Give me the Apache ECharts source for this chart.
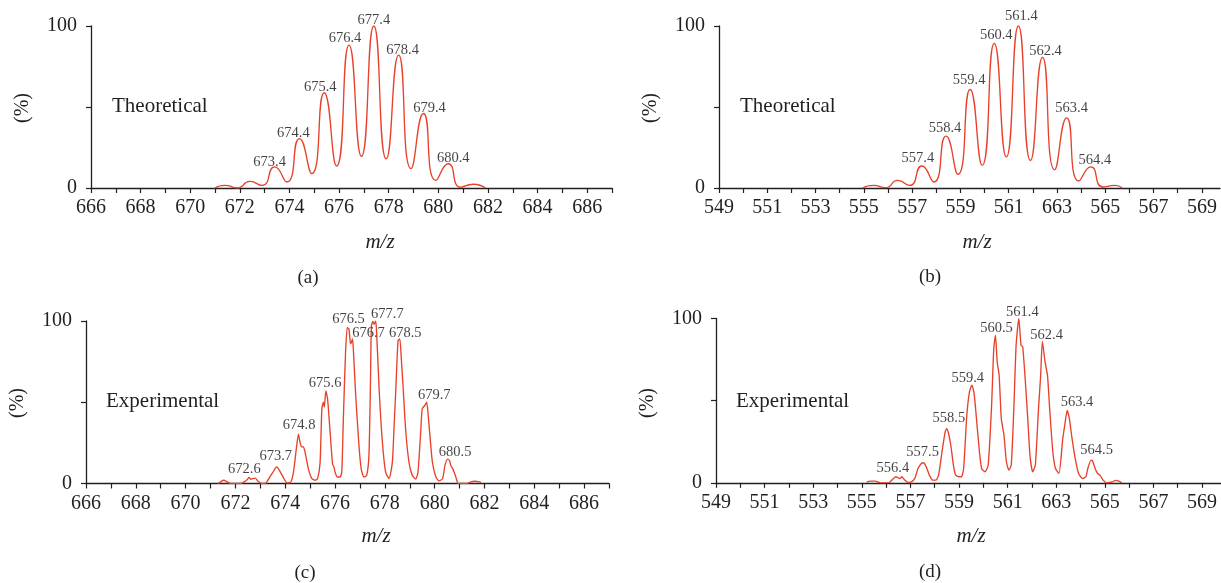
<!DOCTYPE html>
<html>
<head>
<meta charset="utf-8">
<script src="https://cdn.jsdelivr.net/npm/echarts@6/dist/echarts.min.js"></script>
<style>
html, body { margin: 0; padding: 0; background: #ffffff; }
#chart { width: 1221px; height: 583px; }
</style>
</head>
<body>
<div id="chart"></div>
<script>
// ---- m/z axis ticks ----
const ticksA = [666, 667, 668, 669, 670, 671, 672, 673, 674, 675, 676, 677, 678, 679, 680, 681, 682, 683, 684, 685, 686, 687];
const labelValuesA = [666, 668, 670, 672, 674, 676, 678, 680, 682, 684, 686];
const labelTextA = ['666', '668', '670', '672', '674', '676', '678', '680', '682', '684', '686'];
const ticksB = [549, 550, 551, 552, 553, 554, 555, 556, 557, 558, 559, 560, 561, 562, 563, 564, 565, 566, 567, 568, 569];
const labelValuesB = [549, 551, 553, 555, 557, 559, 561, 563, 565, 567, 569];
const labelTextB = ['549', '551', '553', '555', '557', '559', '561', '663', '565', '567', '569'];

// ---- theoretical isotope envelopes: peak / valley points [m/z, %] ----
const theoA = [[671.0, 0], [671.4, 1.6], [671.9, 0], [672.4, 4.1], [672.9, 1.6], [673.4, 13], [673.9, 3.7], [674.4, 30.5], [674.9, 8.9], [675.4, 58.8], [675.9, 13.6], [676.4, 88.2], [676.9, 19.6], [677.4, 100], [677.9, 18], [678.4, 82], [678.9, 12], [679.4, 46], [679.9, 4.7], [680.4, 15], [680.9, 0.5], [681.4, 2.3], [681.9, 0]];
const theoB = [[554.95, 0], [555.4, 1.6], [555.9, 0.2], [556.4, 4.7], [556.9, 1.6], [557.4, 13.6], [557.9, 3.7], [558.4, 32], [558.9, 8.5], [559.4, 60.8], [559.9, 14], [560.4, 89.3], [560.9, 19.2], [561.4, 100], [561.9, 17], [562.4, 80.6], [562.9, 11.3], [563.4, 43.3], [563.9, 4.3], [564.4, 13], [564.9, 0.6], [565.4, 1.6], [565.7, 0]];

// ---- experimental spectra [m/z, %] ----
const expC = [[671.3, 0], [671.42, 1.2], [671.53, 2], [671.65, 1.2], [671.8, 0], [672.2, 0], [672.35, 1], [672.48, 2.5], [672.55, 3.7], [672.62, 2.6], [672.7, 3], [672.8, 3.3], [672.9, 1.5], [673.05, 0], [673.2, 0], [673.3, 2], [673.42, 5], [673.55, 8], [673.64, 10.2], [673.7, 9.6], [673.8, 7.2], [673.93, 3.5], [674.07, 0.4], [674.2, 0.5], [674.33, 7], [674.45, 22], [674.53, 30.3], [674.6, 25], [674.66, 22.5], [674.73, 22.5], [674.8, 19], [674.93, 9], [675.07, 3], [675.2, 2], [675.3, 3], [675.4, 13], [675.47, 46], [675.53, 50], [675.57, 47], [675.63, 57], [675.7, 52], [675.8, 32], [675.9, 12], [675.96, 10], [676.0, 7], [676.09, 4], [676.2, 4], [676.27, 7], [676.33, 38], [676.42, 80], [676.49, 96], [676.56, 95], [676.62, 86], [676.66, 87], [676.7, 89], [676.73, 84], [676.83, 54], [676.96, 23.5], [677.05, 9], [677.16, 4], [677.27, 5], [677.36, 17], [677.42, 60], [677.46, 97], [677.52, 99.7], [677.57, 98], [677.63, 100], [677.67, 93], [677.77, 58], [677.9, 25.6], [678.03, 7], [678.17, 3], [678.3, 13], [678.37, 35], [678.44, 58], [678.53, 88], [678.6, 89], [678.66, 77], [678.73, 60], [678.84, 32], [678.97, 13], [679.1, 5], [679.24, 2.7], [679.33, 7], [679.44, 32], [679.5, 46], [679.6, 48], [679.68, 50], [679.74, 42], [679.82, 27.6], [679.91, 13], [680.05, 4], [680.18, 1.6], [680.32, 3], [680.41, 11], [680.52, 15], [680.6, 14], [680.65, 11], [680.73, 9], [680.85, 4], [680.95, 0], [681.3, 0], [681.45, 1], [681.6, 1.4], [681.8, 1], [681.86, 0.5]];
const expD = [[555.2, 0.5], [555.35, 1], [555.55, 1], [555.76, 0], [556.1, 0], [556.23, 1.6], [556.4, 3.7], [556.5, 3], [556.57, 2.6], [556.64, 3.7], [556.77, 1.6], [556.9, 0.2], [557.04, 0.6], [557.18, 2.6], [557.31, 8.7], [557.45, 11.8], [557.54, 12.2], [557.65, 9.7], [557.78, 4.7], [557.92, 1.6], [558.05, 1.6], [558.16, 4.7], [558.3, 18.9], [558.43, 31], [558.49, 33], [558.57, 30], [558.66, 23], [558.77, 10.8], [558.86, 4.7], [559.0, 3.7], [559.1, 3.7], [559.19, 8.7], [559.32, 41], [559.43, 55.4], [559.53, 59.4], [559.62, 54.4], [559.73, 37], [559.84, 18.9], [559.93, 8.7], [560.07, 6.7], [560.2, 10.8], [560.34, 47], [560.43, 81.7], [560.5, 89.9], [560.57, 73.6], [560.65, 65.5], [560.74, 39], [560.85, 29], [560.95, 12.8], [561.05, 7.7], [561.15, 10.8], [561.26, 47], [561.35, 83.8], [561.46, 100], [561.55, 83.8], [561.62, 82.8], [561.73, 61.5], [561.82, 41], [561.92, 16.8], [562.03, 6.7], [562.14, 10.8], [562.27, 45], [562.36, 65.5], [562.43, 86], [562.54, 73.6], [562.64, 65.5], [562.73, 45], [562.86, 18.9], [562.97, 8.7], [563.11, 5.7], [563.27, 27], [563.35, 35], [563.45, 44], [563.54, 39], [563.65, 27], [563.78, 14.8], [563.92, 5.7], [564.08, 2.6], [564.22, 3.7], [564.3, 8.7], [564.43, 13.8], [564.5, 13.2], [564.6, 8.7], [564.7, 5.7], [564.8, 4.7], [564.93, 1.6], [565.07, 0], [565.3, 0.5], [565.45, 1.5], [565.6, 0.8], [565.7, 0]];

// ---- annotated peaks [m/z, %] ----
const peaksA = [[673.4, 13], [674.4, 30.5], [675.4, 58.8], [676.4, 88.2], [677.4, 100], [678.4, 82], [679.4, 46], [680.4, 15]];
const peaksB = [[557.4, 13.6], [558.4, 32], [559.4, 60.8], [560.4, 89.3], [561.4, 100], [562.4, 80.6], [563.4, 43.3], [564.4, 13]];
const peaksC = [[672.6, 3.7], [673.7, 10], [674.8, 30.3], [675.6, 57], [676.5, 96], [676.7, 89], [677.7, 100], [678.5, 89], [679.7, 50], [680.5, 15]];
const peaksD = [[556.4, 3.7], [557.5, 12.2], [558.5, 33], [559.4, 59.4], [560.5, 89.9], [561.4, 100], [562.4, 86], [563.4, 44], [564.5, 13.2]];

// label nudges in pixels so neighbouring peak labels do not collide
const nudge = {
  a: [[-5, 2], [-6, 1.5], [-4, 1], [-4, 0.5], [0, 1.5], [4, 2], [6, 2], [5, 1.5]],
  b: [[-4, -1.2], [-1, -0.5], [-1, -2], [2, -1], [3, -2.8], [3, 0.5], [5, -2.2], [4, -0.2]],
  c: [[-6, -1.2], [-2, -3.8], [-6, -1.8], [0, -0.8], [1, -1.8], [16, 1], [10, 0.2], [8, 1], [7, 0.2], [8, 0.2]],
  d: [[-3, -1.8], [0, -3.8], [2, -3.4], [-1, 0.2], [1, 0.2], [5, 0.2], [5, 1], [11, -1.8], [4, -3.8]]
};

const INK = '#231f20';
const LABEL_INK = '#141213';
const RED = '#e8412b';
const SERIF = '"Liberation Serif", "DejaVu Serif", serif';

const grids = [
  { left: 91, top: 26, width: 521, height: 162 },
  { left: 719, top: 26, width: 501, height: 162 },
  { left: 86, top: 321, width: 523, height: 162.5 },
  { left: 716, top: 318.5, width: 505, height: 164.3 }
];

function xAxisFor(gi, min, max, ticks, labelValues, labelText) {
  return {
    type: 'value', gridIndex: gi, min: min, max: max,
    axisLine: { lineStyle: { color: INK, width: 1.3 } },
    axisTick: { length: 5, lineStyle: { color: INK, width: 1.2 }, customValues: ticks },
    axisLabel: {
      customValues: labelValues, margin: 10, color: INK, fontFamily: SERIF, fontSize: 20,
      formatter: function (v) {
        const i = labelValues.indexOf(Math.round(v));
        return i >= 0 ? labelText[i] : '';
      }
    },
    splitLine: { show: false }
  };
}
function yAxisFor(gi) {
  return {
    type: 'value', gridIndex: gi, min: 0, max: 100,
    axisLine: { show: true, lineStyle: { color: INK, width: 1.3 } },
    axisTick: { show: true, length: 5, lineStyle: { color: INK, width: 1.2 }, customValues: [0, 50, 100] },
    axisLabel: { customValues: [0, 100], margin: 14, color: INK, fontFamily: SERIF, fontSize: 20 },
    splitLine: { show: false }
  };
}
function curve(gi, data, smooth) {
  return {
    type: 'line', xAxisIndex: gi, yAxisIndex: gi, data: data,
    showSymbol: false, symbol: 'none', smooth: smooth,
    lineStyle: { color: RED, width: 1.35 }, silent: true, animation: false, z: 3
  };
}
function peakLabels(gi, peaks, shifts) {
  return {
    type: 'scatter', xAxisIndex: gi, yAxisIndex: gi, symbolSize: 0, silent: true, animation: false, z: 4,
    data: peaks.map(function (p, i) {
      return {
        value: p,
        label: {
          show: true, position: 'top', distance: 0,
          offset: shifts[i],
          formatter: p[0].toFixed(1),
          color: LABEL_INK, fontFamily: SERIF, fontSize: 14.5, lineHeight: 14
        }
      };
    })
  };
}
function txt(x, y, text, size, extra) {
  return Object.assign({
    type: 'text', x: x, y: y, silent: true,
    style: Object.assign({
      text: text, fill: INK, font: size + 'px ' + SERIF, align: 'center', verticalAlign: 'middle'
    }, (extra && extra.style) || {})
  }, (extra && extra.el) || {});
}

const chart = echarts.init(document.getElementById('chart'), null, { renderer: 'canvas' });
chart.setOption({
  backgroundColor: '#ffffff',
  animation: false,
  grid: grids,
  xAxis: [
    xAxisFor(0, 666, 687, ticksA, labelValuesA, labelTextA),
    xAxisFor(1, 549, 569.75, ticksB, labelValuesB, labelTextB),
    xAxisFor(2, 666, 687, ticksA, labelValuesA, labelTextA),
    xAxisFor(3, 549, 569.78, ticksB, labelValuesB, labelTextB)
  ],
  yAxis: [yAxisFor(0), yAxisFor(1), yAxisFor(2), yAxisFor(3)],
  series: [
    curve(0, theoA, 0.6), curve(1, theoB, 0.6), curve(2, expC, 0.2), curve(3, expD, 0.2),
    peakLabels(0, peaksA, nudge.a), peakLabels(1, peaksB, nudge.b),
    peakLabels(2, peaksC, nudge.c), peakLabels(3, peaksD, nudge.d)
  ],
  graphic: [
    txt(23, 108, '(%)', 20, { el: { rotation: Math.PI / 2 } }),
    txt(651, 108, '(%)', 20, { el: { rotation: Math.PI / 2 } }),
    txt(18, 403, '(%)', 20, { el: { rotation: Math.PI / 2 } }),
    txt(648, 403, '(%)', 20, { el: { rotation: Math.PI / 2 } }),
    txt(112, 106, 'Theoretical', 21, { style: { align: 'left' } }),
    txt(740, 106, 'Theoretical', 21, { style: { align: 'left' } }),
    txt(106, 401, 'Experimental', 21, { style: { align: 'left' } }),
    txt(736, 401, 'Experimental', 21, { style: { align: 'left' } }),
    txt(380, 242, 'm/z', 21, { style: { font: 'italic 21px ' + SERIF } }),
    txt(977, 242, 'm/z', 21, { style: { font: 'italic 21px ' + SERIF } }),
    txt(376, 536, 'm/z', 21, { style: { font: 'italic 21px ' + SERIF } }),
    txt(971, 536, 'm/z', 21, { style: { font: 'italic 21px ' + SERIF } }),
    txt(308, 278, '(a)', 19),
    txt(930, 277, '(b)', 19),
    txt(305, 573, '(c)', 19),
    txt(930, 572, '(d)', 19)
  ]
});
</script>
</body>
</html>
